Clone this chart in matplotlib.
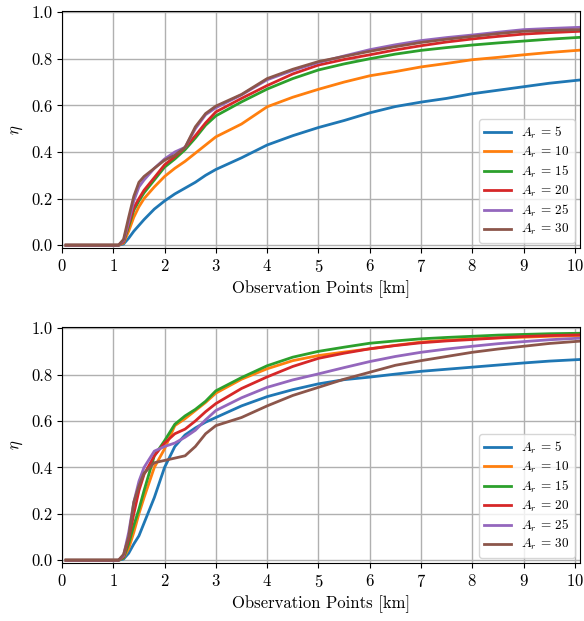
import numpy as np
import matplotlib
matplotlib.use("Agg")
import matplotlib.pyplot as plt

plt.rcParams['font.family'] = 'serif'
plt.rcParams['font.serif'] = ['cmr10']
plt.rcParams['mathtext.fontset'] = 'cm'
plt.rcParams['axes.unicode_minus'] = False
plt.rcParams['axes.formatter.use_mathtext'] = True
plt.rcParams['font.size'] = 12

# observation points [km]
x = [0.08, 1.1, 1.2, 1.3, 1.4, 1.5, 1.6, 1.8, 2.0, 2.2, 2.4, 2.6, 2.8, 3.0,
     3.5, 4.0, 4.5, 5.0, 5.5, 6.0, 6.5, 7.0, 7.5, 8.0, 8.5, 9.0, 9.5, 10.1]

labels = [r'$A_r\,=\,5$', r'$A_r\,=\,10$', r'$A_r\,=\,15$',
          r'$A_r\,=\,20$', r'$A_r\,=\,25$', r'$A_r\,=\,30$']

# upper panel
top_a5 = [0, 0, 0.005, 0.03, 0.06, 0.085, 0.11, 0.155, 0.19, 0.22, 0.245, 0.27, 0.3, 0.325,
          0.375, 0.43, 0.47, 0.505, 0.535, 0.568, 0.595, 0.614, 0.63, 0.65, 0.665, 0.68, 0.695, 0.709]
top_a10 = [0, 0, 0.01, 0.06, 0.12, 0.165, 0.2, 0.25, 0.295, 0.33, 0.36, 0.395, 0.43, 0.465,
           0.52, 0.594, 0.635, 0.669, 0.7, 0.727, 0.745, 0.765, 0.78, 0.796, 0.806, 0.817, 0.827, 0.837]
top_a15 = [0, 0, 0.015, 0.08, 0.15, 0.19, 0.225, 0.28, 0.335, 0.37, 0.41, 0.46, 0.515, 0.555,
           0.615, 0.67, 0.715, 0.752, 0.778, 0.8, 0.82, 0.836, 0.848, 0.859, 0.868, 0.876, 0.884, 0.892]
top_a20 = [0, 0, 0.015, 0.09, 0.16, 0.2, 0.236, 0.29, 0.345, 0.38, 0.42, 0.47, 0.525, 0.572,
           0.63, 0.685, 0.735, 0.773, 0.797, 0.817, 0.838, 0.856, 0.872, 0.885, 0.896, 0.906, 0.912, 0.918]
top_a25 = [0, 0, 0.02, 0.1, 0.19, 0.25, 0.28, 0.33, 0.37, 0.4, 0.42, 0.5, 0.56, 0.59,
           0.645, 0.71, 0.75, 0.784, 0.812, 0.839, 0.86, 0.878, 0.891, 0.902, 0.914, 0.925, 0.93, 0.935]
top_a30 = [0, 0, 0.025, 0.12, 0.21, 0.27, 0.295, 0.33, 0.365, 0.386, 0.42, 0.508, 0.565, 0.597,
           0.647, 0.715, 0.755, 0.788, 0.81, 0.832, 0.852, 0.87, 0.884, 0.896, 0.908, 0.918, 0.922, 0.925]

# lower panel
bot_a5 = [0, 0, 0.005, 0.03, 0.07, 0.105, 0.16, 0.27, 0.4, 0.49, 0.54, 0.57, 0.595, 0.615,
          0.665, 0.705, 0.735, 0.76, 0.778, 0.789, 0.802, 0.814, 0.823, 0.832, 0.841, 0.85, 0.858, 0.865]
bot_a10 = [0, 0, 0.01, 0.05, 0.12, 0.2, 0.27, 0.4, 0.48, 0.58, 0.61, 0.645, 0.68, 0.72,
           0.78, 0.825, 0.86, 0.882, 0.897, 0.911, 0.926, 0.94, 0.948, 0.954, 0.958, 0.961, 0.965, 0.968]
bot_a15 = [0, 0, 0.01, 0.07, 0.15, 0.22, 0.3, 0.45, 0.515, 0.586, 0.622, 0.65, 0.685, 0.73,
           0.787, 0.838, 0.875, 0.9, 0.918, 0.935, 0.945, 0.954, 0.96, 0.965, 0.97, 0.973, 0.976, 0.978]
bot_a20 = [0, 0, 0.015, 0.09, 0.2, 0.3, 0.37, 0.45, 0.505, 0.545, 0.565, 0.6, 0.64, 0.675,
           0.74, 0.79, 0.835, 0.87, 0.892, 0.911, 0.925, 0.937, 0.945, 0.951, 0.958, 0.964, 0.968, 0.971]
bot_a25 = [0, 0, 0.02, 0.12, 0.25, 0.34, 0.4, 0.47, 0.49, 0.505, 0.53, 0.56, 0.605, 0.645,
           0.7, 0.745, 0.777, 0.803, 0.83, 0.856, 0.878, 0.896, 0.91, 0.922, 0.933, 0.942, 0.95, 0.957]
bot_a30 = [0, 0, 0.025, 0.1, 0.25, 0.32, 0.375, 0.42, 0.43, 0.44, 0.45, 0.49, 0.545, 0.58,
           0.615, 0.665, 0.71, 0.745, 0.78, 0.81, 0.84, 0.86, 0.878, 0.896, 0.91, 0.922, 0.934, 0.944]

top = [top_a5, top_a10, top_a15, top_a20, top_a25, top_a30]
bottom = [bot_a5, bot_a10, bot_a15, bot_a20, bot_a25, bot_a30]

fig = plt.figure(figsize=(5.84, 6.21), dpi=100)
ax1 = fig.add_axes([62/584, 1-248/621, 518/584, 237/621])
ax2 = fig.add_axes([62/584, 1-563/621, 518/584, 236/621])

for ax, series in [(ax1, top), (ax2, bottom)]:
    for ys, lab in zip(series, labels):
        ax.plot(x, ys, lw=2, label=lab)
    ax.set_xlim(0, 10.1)
    ax.set_ylim(-0.012, 1.005)
    ax.set_xticks(range(11))
    ax.set_yticks([0, 0.2, 0.4, 0.6, 0.8, 1.0])
    ax.set_yticklabels(['0.0', '0.2', '0.4', '0.6', '0.8', '1.0'])
    ax.grid(True, color='#b0b0b0', lw=1)
    ax.set_axisbelow(True)
    ax.set_xlabel('Observation Points [km]')
    ax.set_ylabel(r'$\eta$')
    ax.legend(loc='lower right', fontsize=9.5, handlelength=2.0,
              labelspacing=0.28, borderaxespad=0.4, borderpad=0.4)

fig.savefig('out.png', dpi=100)
